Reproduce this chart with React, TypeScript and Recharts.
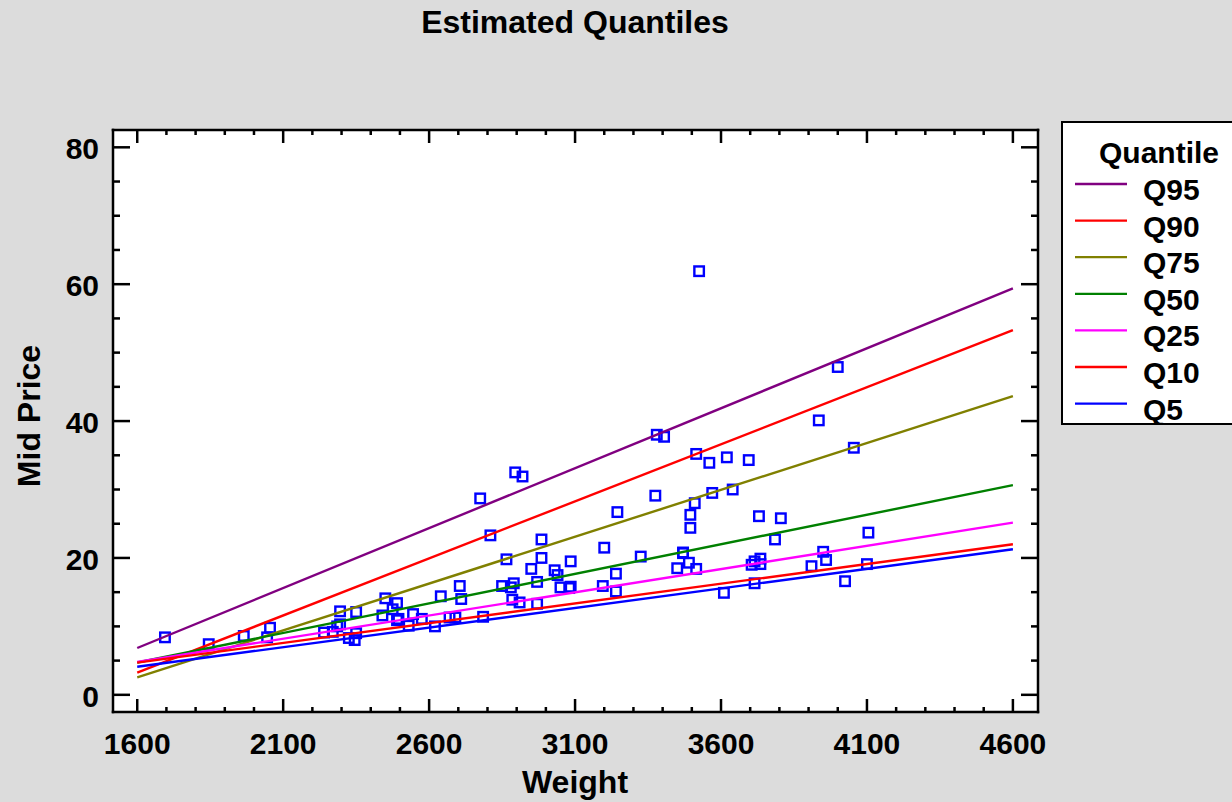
import React from 'react'
import {
  ComposedChart,
  Scatter,
  XAxis,
  YAxis,
  CartesianGrid,
  Legend,
} from 'recharts'

// Cars: curb weight (lb) vs mid-range price ($1000)
const weights = [
  2705, 3560, 3375, 3405, 3640, 2880, 3470, 4105, 3495, 3620, 3935, 2490, 2785, 3240, 3195, 3715,
  4025, 3910, 3380, 3515, 3085, 3570, 2270, 2670, 2970, 3705, 3080, 3805, 2295, 3490, 1845, 2530,
  2690, 2850, 2710, 3735, 3325, 3950, 1695, 2475, 2865, 2350, 3040, 2345, 2620, 2285, 2885, 4000,
  3510, 3515, 3695, 4055, 2325, 2440, 2970, 3735, 2895, 2920, 3525, 2450, 3610, 2295, 3730, 2545,
  3050, 4100, 3200, 2910, 2890, 3715, 3470, 2640, 2350, 2575, 3240, 3450, 3495, 2775, 2495, 2045,
  2490, 3085, 1965, 2055, 2950, 3030, 3785, 2240, 3960, 2985, 2810, 2985, 3245,
]
const midPrices = [
  15.9, 33.9, 29.1, 37.7, 30.0, 15.7, 20.8, 23.7, 26.3, 34.7, 40.1, 13.4, 11.4, 15.1, 15.9, 16.3,
  16.6, 18.8, 38.0, 18.4, 15.8, 29.5, 9.2, 11.3, 13.3, 19.0, 15.6, 25.8, 12.2, 19.3, 7.4, 10.1,
  11.3, 15.9, 14.0, 19.9, 20.2, 20.9, 8.4, 12.5, 19.8, 12.1, 17.5, 8.0, 10.0, 10.0, 13.9, 47.9,
  28.0, 35.2, 34.3, 36.1, 8.3, 11.6, 16.5, 19.1, 32.5, 31.9, 61.9, 14.1, 14.9, 10.3, 26.1, 11.8,
  15.7, 19.1, 21.5, 13.5, 16.3, 19.5, 20.7, 14.4, 9.0, 11.1, 17.7, 18.5, 24.4, 28.7, 11.1, 8.4,
  10.9, 19.5, 8.6, 9.8, 18.4, 18.2, 22.7, 9.1, 19.7, 20.0, 23.3, 22.7, 26.7,
]

// fitted quantile lines, evaluated at the ends of the weight range
const lineWeights = [1600, 4600]
const quantileNames = ['Q95', 'Q90', 'Q75', 'Q50', 'Q25', 'Q10', 'Q5']
const quantileColors = ['#800080', '#ff0000', '#808000', '#008000', '#ff00ff', '#ff0000', '#0000ff']
const q95 = [6.84, 59.39]
const q90 = [3.25, 53.29]
const q75 = [2.56, 43.64]
const q50 = [4.72, 30.63]
const q25 = [4.8, 25.17]
const q10 = [4.7, 22.0]
const q5 = [4.1, 21.27]
const quantileFits = [q95, q90, q75, q50, q25, q10, q5]

const xMajorTicks = [1600, 2100, 2600, 3100, 3600, 4100, 4600]
const yMajorTicks = [0, 20, 40, 60, 80]
const X_MINOR_STEPS = 5
const Y_MINOR_STEPS = 4

const subdivide = (majors: number[], steps: number) => {
  const out: number[] = []
  majors.forEach((m, i) => {
    out.push(m)
    if (i < majors.length - 1) {
      const d = (majors[i + 1] - m) / steps
      for (let k = 1; k < steps; k++) out.push(m + d * k)
    }
  })
  return out
}
const xTicks = subdivide(xMajorTicks, X_MINOR_STEPS)
const yTicks = subdivide(yMajorTicks, Y_MINOR_STEPS)

const points = weights.map((w, i) => ({ x: w, y: midPrices[i] }))
const quantileLines = quantileFits.map((fit) => lineWeights.map((w, i) => ({ x: w, y: fit[i] })))

const X_DOMAIN = [1517, 4686]
const Y_DOMAIN = [-2.51, 82.53]

const FONT = '"Liberation Sans", Arial, Helvetica, sans-serif'
const TICK = { stroke: '#000', strokeWidth: 2.5 }

const textStyle = { fontFamily: FONT, fontWeight: 700, fill: '#000' }

const isMajorX = (v: number) => xMajorTicks.includes(v)
const isMajorY = (v: number) => yMajorTicks.includes(v)

// inward ticks on all four sides, labels only on bottom and left
const BottomTick = ({ x, y, payload }: any) => {
  const major = isMajorX(payload.value)
  return (
    <g>
      <line x1={x} x2={x} y1={y} y2={y - (major ? 13 : 5)} {...TICK} />
      {major && (
        <text x={x} y={y + 42} textAnchor="middle" fontSize={30} style={textStyle}>
          {payload.value}
        </text>
      )}
    </g>
  )
}
const TopTick = ({ x, y, payload }: any) => {
  const major = isMajorX(payload.value)
  return <line x1={x} x2={x} y1={y} y2={y + (major ? 13 : 5)} {...TICK} />
}
const LeftTick = ({ x, y, payload }: any) => {
  const major = isMajorY(payload.value)
  return (
    <g>
      <line x1={x} x2={x + (major ? 17 : 7)} y1={y} y2={y} {...TICK} />
      {major && (
        <text x={x - 14} y={y + 12} textAnchor="end" fontSize={30} style={textStyle}>
          {payload.value}
        </text>
      )}
    </g>
  )
}
const RightTick = ({ x, y, payload }: any) => {
  const major = isMajorY(payload.value)
  return <line x1={x} x2={x - (major ? 17 : 7)} y1={y} y2={y} {...TICK} />
}

const SquareMarker = ({ cx, cy }: any) => (
  <rect x={cx - 4.75} y={cy - 4.75} width={9.5} height={9.5} fill="none" stroke="#0000ff" strokeWidth={2.4} />
)
const NoMarker = () => <g />

const QuantileLegend = () => (
  <svg width={200} height={304} style={{ display: 'block' }}>
    <rect x={1} y={1} width={210} height={302} fill="#fff" stroke="#000" strokeWidth={2} />
    <text x={38} y={42} fontSize={30} style={textStyle}>
      Quantile
    </text>
    {quantileNames.map((name, i) => {
      const cy = 63 + i * 36.6
      return (
        <g key={name}>
          <line x1={14} x2={66} y1={cy} y2={cy} stroke={quantileColors[i]} strokeWidth={2.3} />
          <text x={82} y={cy + 16} fontSize={30} style={textStyle}>
            {name}
          </text>
        </g>
      )
    })}
  </svg>
)

const axisLine = { stroke: '#000', strokeWidth: 2.5, strokeLinecap: 'square' as const }

export default function App() {
  return (
    <div
      style={{
        position: 'absolute',
        left: 0,
        top: 0,
        width: 1232,
        height: 802,
        background: '#dcdcdc',
        overflow: 'hidden',
      }}
    >
      <ComposedChart width={1232} height={802} margin={{ top: 129, right: 193, bottom: 89, left: 112 }}>
        <CartesianGrid xAxisId="b" yAxisId="l" horizontal={false} vertical={false} fill="#fff" />
        <XAxis
          xAxisId="b"
          orientation="bottom"
          type="number"
          dataKey="x"
          domain={X_DOMAIN}
          allowDataOverflow
          ticks={xTicks}
          interval={0}
          height={1}
          tickSize={0}
          tickMargin={0}
          tickLine={false}
          axisLine={axisLine}
          tick={<BottomTick />}
        />
        <XAxis
          xAxisId="t"
          orientation="top"
          type="number"
          dataKey="x"
          domain={X_DOMAIN}
          allowDataOverflow
          ticks={xTicks}
          interval={0}
          height={1}
          tickSize={0}
          tickMargin={0}
          tickLine={false}
          axisLine={axisLine}
          tick={<TopTick />}
        />
        <YAxis
          yAxisId="l"
          orientation="left"
          type="number"
          dataKey="y"
          domain={Y_DOMAIN}
          allowDataOverflow
          ticks={yTicks}
          interval={0}
          width={1}
          tickSize={0}
          tickMargin={0}
          tickLine={false}
          axisLine={axisLine}
          tick={<LeftTick />}
        />
        <YAxis
          yAxisId="r"
          orientation="right"
          type="number"
          dataKey="y"
          domain={Y_DOMAIN}
          allowDataOverflow
          ticks={yTicks}
          interval={0}
          width={1}
          tickSize={0}
          tickMargin={0}
          tickLine={false}
          axisLine={axisLine}
          tick={<RightTick />}
        />
        <Scatter
          xAxisId="b"
          yAxisId="l"
          data={points}
          shape={<SquareMarker />}
          legendType="none"
          isAnimationActive={false}
        />
        {quantileLines.map((line, i) => (
          <Scatter
            key={quantileNames[i]}
            xAxisId="b"
            yAxisId="l"
            data={line}
            line={{ stroke: quantileColors[i], strokeWidth: 2.4 }}
            lineType="joint"
            shape={<NoMarker />}
            legendType="none"
            isAnimationActive={false}
          />
        ))}
        <Legend
          layout="vertical"
          align="center"
          verticalAlign="middle"
          content={<QuantileLegend />}
          wrapperStyle={{ left: 1061, top: 121, width: 200, height: 304 }}
        />
        <text x={575} y={33} textAnchor="middle" fontSize={32} style={textStyle}>
          Estimated Quantiles
        </text>
        <text x={575} y={793} textAnchor="middle" fontSize={32} style={textStyle}>
          Weight
        </text>
        <text
          x={40}
          y={416}
          textAnchor="middle"
          fontSize={32}
          transform="rotate(-90, 40, 416)"
          style={textStyle}
        >
          Mid Price
        </text>
      </ComposedChart>
    </div>
  )
}
